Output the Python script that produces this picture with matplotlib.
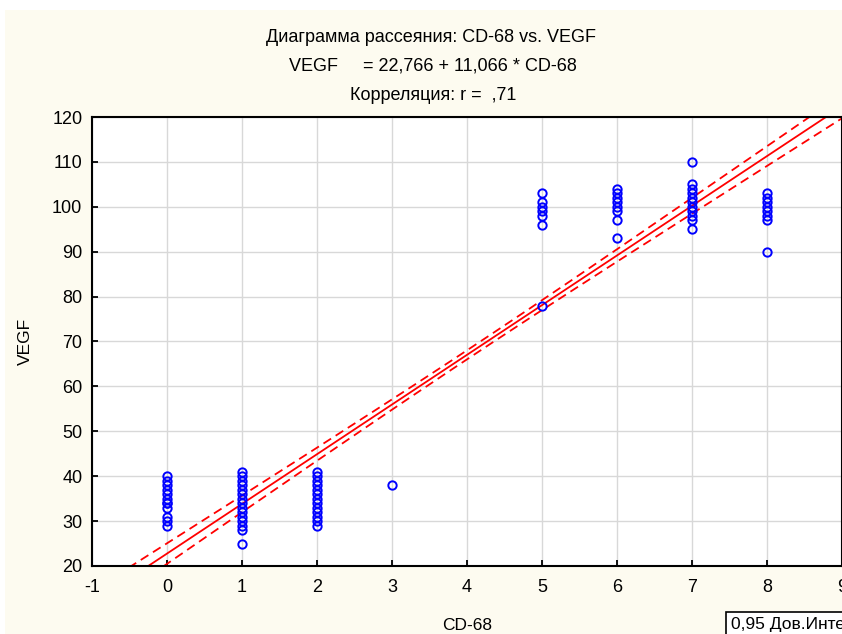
import numpy as np
import matplotlib.pyplot as plt
from matplotlib.patches import Rectangle

plt.rcParams['font.family'] = ['Liberation Sans', 'DejaVu Sans']

# CD-68 groups and the VEGF values
cd68_0 = [40, 39, 38, 37, 36, 35, 34, 34, 33, 31, 30, 29]
cd68_1 = [41, 40, 39, 38, 37, 36, 35, 34, 33, 32, 31, 30, 29, 28, 25]
cd68_2 = [41, 40, 39, 38, 37, 36, 35, 34, 33, 32, 31, 30, 29]
cd68_3 = [38]
cd68_5 = [103, 101, 100, 99, 98, 96, 78]
cd68_6 = [104, 103, 102, 101, 100, 99, 97, 93]
cd68_7 = [110, 105, 104, 103, 102, 101, 100, 99, 98, 97, 95]
cd68_8 = [103, 102, 101, 100, 99, 98, 97, 90]
groups = {0: cd68_0, 1: cd68_1, 2: cd68_2, 3: cd68_3,
          5: cd68_5, 6: cd68_6, 7: cd68_7, 8: cd68_8}

# regression from the title and the 0.95 band shape
intercept = 22.766
slope = 11.066
ci_center = 4.1
ci_hw_center = 1.0
ci_spread = 0.25

x_ticks = list(range(-1, 10))
y_ticks = list(range(20, 121, 10))

fig = plt.figure(figsize=(8.42, 6.34), dpi=100)
fig.patch.set_facecolor('white')
fig.patches.append(Rectangle((5 / 842, 0), 1, 1 - 10 / 634, transform=fig.transFigure,
                             facecolor='#fdfbf0', edgecolor='none', zorder=-10))

ax = fig.add_axes([92 / 842, 68 / 634, 750 / 842, 449 / 634])
ax.set_facecolor('white')

xs = []
ys = []
for k, vals in groups.items():
    xs += [k] * len(vals)
    ys += vals
ax.plot(xs, ys, 'o', mfc='none', mec='#0000ff', ms=6, mew=1.4, zorder=3)

xl = np.linspace(-1, 9, 200)
yl = intercept + slope * xl
hw = np.sqrt(ci_hw_center ** 2 + ci_spread * (xl - ci_center) ** 2)
ax.plot(xl, yl, color='#ff0000', lw=1.3, zorder=2)
ax.plot(xl, yl + hw, color='#ff0000', lw=1.3, ls=(0, (5, 3)), zorder=2)
ax.plot(xl, yl - hw, color='#ff0000', lw=1.3, ls=(0, (5, 3)), zorder=2)

ax.set_xlim(-1, 9)
ax.set_ylim(20, 120)
ax.set_xticks(x_ticks)
ax.set_yticks(y_ticks)
ax.set_xticklabels([str(t) for t in x_ticks])
ax.grid(True, color='#d8d8d8', lw=1)
ax.set_axisbelow(True)
ax.tick_params(direction='in', length=4, width=1.3, labelsize=13, color='black')
ax.tick_params(axis='y', pad=7)
ax.tick_params(axis='x', pad=9)
for s in ax.spines.values():
    s.set_color('black')
    s.set_linewidth(1.5)

ax.set_xlabel('CD-68', fontsize=12.5, labelpad=16)
ax.set_ylabel('VEGF', fontsize=12.5, labelpad=14)

fig.text(431 / 842, 1 - 38 / 634, 'Диаграмма рассеяния: CD-68 vs. VEGF',
         ha='center', va='center', fontsize=13)
fig.text(433 / 842, 1 - 66 / 634, 'VEGF     = 22,766 + 11,066 * CD-68',
         ha='center', va='center', fontsize=13)
fig.text(433 / 842, 1 - 95 / 634, 'Корреляция: r =  ,71',
         ha='center', va='center', fontsize=13)

fig.text(731 / 842, 1 - 625 / 634, '0,95 Дов.Интервал', ha='left', va='center',
         fontsize=12.5,
         bbox=dict(boxstyle='square,pad=0.3', facecolor='white', edgecolor='black', lw=1.2))

fig.savefig('out.png', dpi=100, facecolor=fig.get_facecolor())
